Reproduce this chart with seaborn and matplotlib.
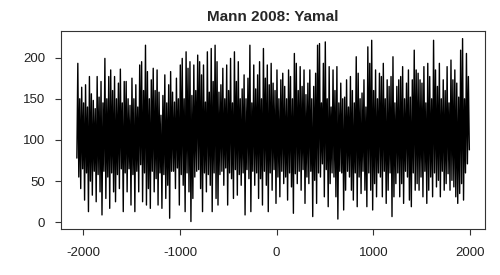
import numpy as np
import pandas as pd
import matplotlib
matplotlib.use("Agg")
import matplotlib.pyplot as plt
import seaborn as sns

# Yamal series, decadal samples (alternating troughs/peaks)
seg1 = [78,193,55,150,41,164,65,145,27,167,60,140,13,177,50,156,33,148,62,138,
        25,177,58,152,37,171,9,145,62,199,29,150,55,177,17,185,60,160,37,177,
        25,150,58,169,41,186,65,145,13,171]
seg2_lo = [60,37,65,21,58,13,62,37,70,25,60,21,41,17,62,37,53,21,60,17,58,29,45,5,62]
seg2_hi = [171,150,142,175,150,167,140,191,195,160,215,183,150,173,187,160,185,158,130,154,179,145,167,183,158]
seg3_lo = [62,41,66,21,58,45,13,60,37,1,29,55,62,64,41,13,60,37,58,45,13,60,29,21,58]
seg3_hi = [146,175,150,191,199,150,207,187,195,154,191,160,203,195,179,191,146,207,158,211,171,215,195,158,167]
seg4_lo = [62,45,66,21,60,53,29,64,33,58,45,60,9,64,53,13,62,45,60,29,53,21,62,45,13]
seg4_hi = [187,150,191,160,199,145,207,171,195,150,162,179,150,175,215,145,191,162,179,195,150,211,175,191,167]
seg5_lo = [60,39,64,23,55,31,62,47,55,27,60,43,11,59,47,62,39,64,23,55,47,62,7,51,23,60]
seg5_hi = [193,169,160,185,150,173,181,165,150,185,177,150,205,193,160,189,165,185,155,169,185,150,165,181,215]
seg6_hi = [217,145,193,219,150,189,140,185,160,189,145,169,150,152,173,140,177,160,145,201,181,150,157,173,140,213]
seg6_lo = [55,71,31,64,19,47,60,55,31,4,62,60,15,39,62,55,39,27,60,19,55,35,62,39,19,60]
seg7_hi = [193,221,160,185,150,181,177,193,150,173,165,177,201,145,165,173,177,189,150,169,185,152,173,209,185,181]
seg7_lo = [39,15,47,31,60,55,31,62,23,39,60,7,31,47,60,31,47,23,62,55,27,19,60,39,47]
seg8_lo = [39,55,31,62,23,39,55,31,60,43,51,31,62,39,47,59,39,51,43,31,23,35,47,27,60,71,88]
seg8_hi = [173,169,189,145,193,177,150,221,185,165,193,150,173,160,189,145,197,173,185,169,152,209,223,150,205,177]

title = "Mann 2008: Yamal"
x_ticks = [-2000, -1000, 0, 1000, 2000]
y_ticks = [0, 50, 100, 150, 200]
start_year = -2067
step_years = 10


def interleave(first, second):
    out = []
    for i in range(max(len(first), len(second))):
        if i < len(first):
            out.append(first[i])
        if i < len(second):
            out.append(second[i])
    return out


values = (seg1
          + interleave(seg2_lo, seg2_hi)
          + interleave(seg3_lo, seg3_hi)
          + interleave(seg4_lo, seg4_hi)
          + interleave(seg5_lo, seg5_hi)
          + interleave(seg6_hi, seg6_lo)
          + interleave(seg7_hi, seg7_lo)
          + interleave(seg8_lo, seg8_hi))
years = start_year + step_years * np.arange(len(values))
df = pd.DataFrame({"year": years, "value": values})

sns.set_style("white")
plt.rcParams["font.family"] = ["Liberation Sans", "DejaVu Sans"]
plt.rcParams["axes.unicode_minus"] = False

fig = plt.figure(figsize=(5, 2.75), dpi=100)
ax = fig.add_axes([0.122, 0.166, 0.848, 0.722])
sns.lineplot(data=df, x="year", y="value", color="black", linewidth=1.0,
             estimator=None, sort=False, ax=ax)

ax.set_xlim(-2231, 2155)
ax.set_ylim(-8.5, 232.5)
ax.set_xticks(x_ticks)
ax.set_yticks(y_ticks)
ax.set_xlabel("")
ax.set_ylabel("")
for s in ax.spines.values():
    s.set_visible(True)
    s.set_color("#333333")
    s.set_linewidth(0.8)
ax.tick_params(axis="both", direction="out", length=4.5, width=0.8,
               color="#333333", labelsize=9.5, labelcolor="#222222",
               bottom=True, left=True)
ax.tick_params(axis="x", pad=8)
ax.tick_params(axis="y", pad=7)
ax.set_title(title, fontsize=11, fontweight="bold", pad=7)

fig.savefig("out.png", dpi=100, facecolor="white")
